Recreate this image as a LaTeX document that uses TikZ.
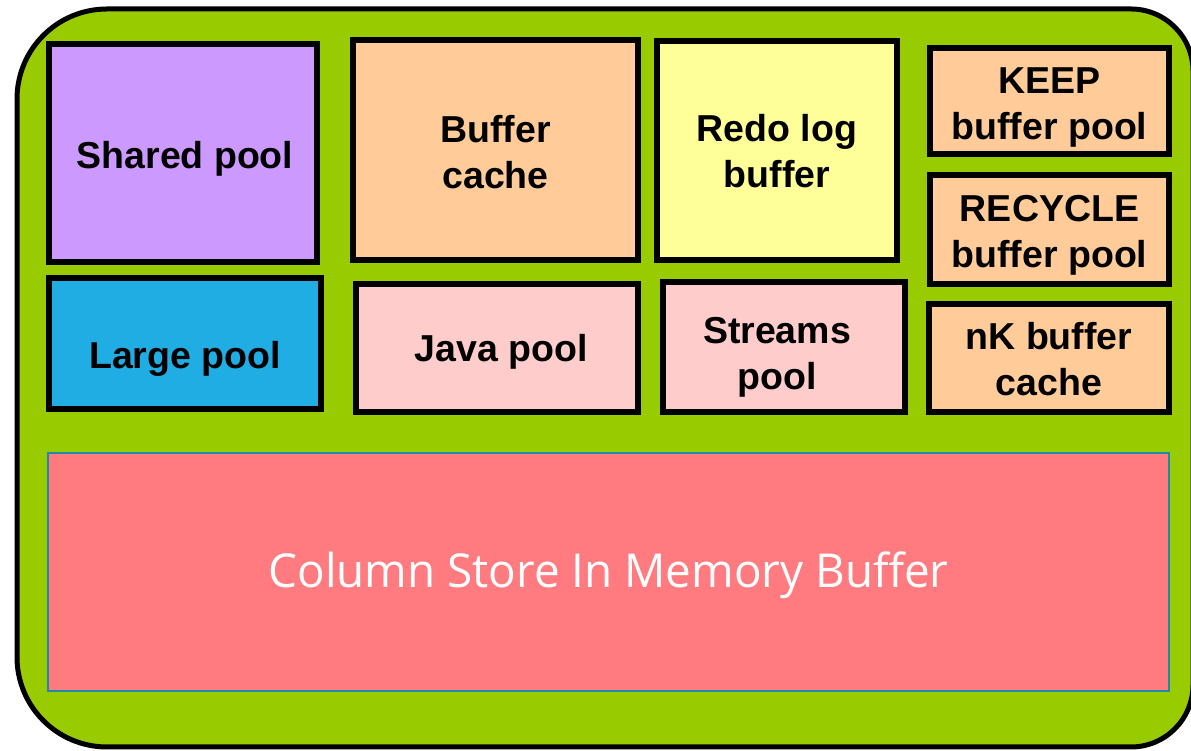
\documentclass[tikz,border=0pt]{standalone}
\usepackage{fontspec}
\setmainfont{Liberation Sans}
\newfontfamily\colfont{Open Sans}
\definecolor{sgagreen}{HTML}{99CC00}
\definecolor{cpurple}{HTML}{CC99FF}
\definecolor{cblue}{HTML}{1FADE3}
\definecolor{cpeach}{HTML}{FFCC99}
\definecolor{cyellow}{HTML}{FFFF99}
\definecolor{cpink}{HTML}{FFCCCC}
\definecolor{cred}{HTML}{FF7B80}
\definecolor{cteal}{HTML}{2088A8}
\tikzset{
  pool/.style={draw=black, line width=6pt, inner sep=0pt},
  pooltext/.style={inner sep=0pt, align=center,
    font=\fontsize{37.5}{46}\selectfont\bfseries},
}
\begin{document}
\begin{tikzpicture}[x=1pt,y=1pt]
\useasboundingbox (0,0) rectangle (1191,751);
\begin{scope}
\clip (0,0) rectangle (1191,751);
\draw[line width=5pt, fill=sgagreen]
  (107,742) -- (1131,742) arc[start angle=90,end angle=0,radius=62]
  -- (1193,66) arc[start angle=0,end angle=-90,radius=62]
  -- (107,4) arc[start angle=270,end angle=180,radius=90]
  -- (17,652) arc[start angle=180,end angle=90,radius=90] -- cycle;
\end{scope}
\node[pool, fill=cpurple, minimum width=268, minimum height=218] (shared) at (183,598) {};
\node[pool, fill=cblue, minimum width=272, minimum height=131] (large) at (185,407.5) {};
\node[pool, fill=cpeach, minimum width=285, minimum height=220] (bufcache) at (495.5,601) {};
\node[pool, fill=cyellow, minimum width=240, minimum height=219] (redo) at (777,600.5) {};
\node[pool, fill=cpink, minimum width=282, minimum height=128] (java) at (497,403) {};
\node[pool, fill=cpink, minimum width=242, minimum height=130] (streams) at (784,404) {};
\node[pool, fill=cpeach, minimum width=239, minimum height=106] (keep) at (1049.5,650) {};
\node[pool, fill=cpeach, minimum width=239, minimum height=109] (recycle) at (1049.5,521.5) {};
\node[pool, fill=cpeach, minimum width=240, minimum height=108] (nk) at (1049,393) {};
\node[pooltext] (shared-t) at ([xshift=2pt,yshift=-6pt]shared.center) {Shared pool};
\node[pooltext] (large-t) at ([yshift=-15pt]large.center) {Large pool};
\node[pooltext] (bufcache-t) at ([yshift=-2pt]bufcache.center) {Buffer\\cache};
\node[pooltext] (redo-t) at ([yshift=-1pt]redo.center) {Redo log\\buffer};
\node[pooltext] (java-t) at ([xshift=4pt,yshift=-4pt]java.center) {Java pool};
\node[pooltext] (streams-t) at ([xshift=-7pt,yshift=-10pt]streams.center) {Streams\\pool};
\node[pooltext] (keep-t) at ([yshift=-7pt]keep.center) {KEEP\\buffer pool};
\node[pooltext] (recycle-t) at ([yshift=-6pt]recycle.center) {RECYCLE\\buffer pool};
\node[pooltext] (nk-t) at ([yshift=-1pt]nk.center) {nK buffer\\cache};
\node[draw=cteal, line width=2pt, fill=cred, minimum width=1121, minimum height=238, inner sep=0pt] (column) at (608.5,179) {};
\node[inner sep=0pt, text=white, font=\colfont\fontsize{50}{60}\selectfont] (column-t) at ([yshift=-3pt]column.center)
  {\resizebox*{680pt}{47pt}{Column Store In Memory Buffer}};
\end{tikzpicture}
\end{document}
